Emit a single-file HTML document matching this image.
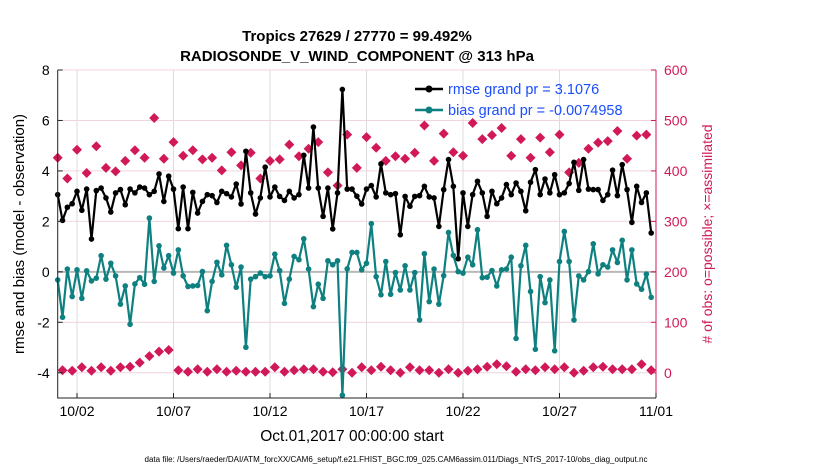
<!DOCTYPE html>
<html><head><meta charset="utf-8"><style>
body{margin:0;background:#fff;}
svg{display:block;font-family:"Liberation Sans",sans-serif;}
</style></head><body>
<svg id="chart" width="830" height="470" viewBox="0 0 830 470">
<text x="357" y="41" text-anchor="middle" font-size="15" font-weight="bold">Tropics 27629 / 27770 = 99.492%</text>
<text x="357" y="61" text-anchor="middle" font-size="15" font-weight="bold">RADIOSONDE_V_WIND_COMPONENT @ 313 hPa</text>
<g id="grid"></g><g id="marks"></g><g id="axes"></g>
<text x="352" y="441" text-anchor="middle" font-size="15.5">Oct.01,2017 00:00:00 start</text>
<text transform="translate(24,234) rotate(-90)" text-anchor="middle" font-size="15">rmse and bias (model - observation)</text>
<text transform="translate(712,234) rotate(-90)" text-anchor="middle" font-size="14" fill="#d1195a"># of obs: o=possible; &#215;=assimilated</text>
<text x="396" y="462" text-anchor="middle" font-size="8" textLength="503" lengthAdjust="spacingAndGlyphs">data file: /Users/raeder/DAI/ATM_forcXX/CAM6_setup/f.e21.FHIST_BGC.f09_025.CAM6assim.011/Diags_NTrS_2017-10/obs_diag_output.nc</text>
<g>
<line x1="415" y1="89" x2="443" y2="89" stroke="#000" stroke-width="2.5"/><circle cx="429" cy="89" r="3.5" fill="#000"/>
<text x="448" y="94" font-size="14.5" fill="#1a4dff">rmse grand pr = 3.1076</text>
<line x1="415" y1="110" x2="443" y2="110" stroke="#0e8080" stroke-width="2.5"/><circle cx="429" cy="110" r="3.5" fill="#0e8080"/>
<text x="448" y="115" font-size="14.5" fill="#1a4dff">bias grand pr = -0.0074958</text>
</g>
</svg>
<script>
const rmse=[3.06,2.04,2.56,2.70,3.19,2.44,3.28,1.30,3.22,3.32,2.93,2.37,3.13,3.26,2.66,3.28,3.13,3.36,3.32,3.06,3.19,3.88,2.79,3.79,3.28,1.71,3.36,1.71,3.15,2.33,2.79,3.06,
3.02,2.75,3.19,3.10,2.97,3.48,2.69,4.78,3.13,2.29,2.93,4.15,2.97,3.36,2.99,2.83,3.19,2.93,3.06,4.62,3.32,5.74,3.32,2.20,3.32,1.70,3.13,7.23,3.28,3.28,3.0,
2.69,3.28,3.42,2.97,4.28,3.13,3.06,3.10,1.47,2.99,2.60,2.99,3.02,3.39,2.97,2.93,1.80,3.26,4.45,3.39,0.52,3.13,1.80,3.06,3.59,3.13,2.20,3.19,2.70,2.93,3.46,
3.06,3.52,3.19,2.42,3.55,4.05,3.06,3.68,3.13,3.85,3.06,3.13,3.50,4.34,3.23,4.45,3.28,3.26,3.26,2.83,3.06,4.03,3.02,4.25,3.26,1.96,3.39,2.75,3.13,1.54];
const bias=[-0.32,-1.80,0.11,-0.98,0.08,-1.05,0.04,-0.36,-0.25,0.64,-0.29,0.34,-0.16,-1.28,-0.56,-2.08,-0.48,-0.23,-0.49,2.13,-0.38,1.03,0.15,0.64,-0.05,0.87,-0.16,-0.58,-0.56,-0.54,0.01,-1.54,
-0.38,0.38,-0.12,1.05,0.28,-0.61,0.19,-2.99,-0.29,-0.19,-0.05,-0.19,-0.16,0.70,0.05,-1.25,-0.29,0.61,0.48,1.31,0.11,-1.38,-0.49,-1.05,0.44,0.28,0.44,-4.89,0.12,0.77,0.77,
0.08,0.34,1.91,-0.19,-0.91,0.41,-0.89,-0.03,-0.72,0.24,-0.72,-0.03,-1.91,0.72,-1.18,0.11,-1.28,-0.15,1.56,0.65,0.01,-0.05,0.58,0.28,1.67,-0.23,-0.21,0.05,-0.56,0.08,0.11,
0.58,-2.64,0.24,1.05,-0.78,-3.07,-0.19,-1.22,-0.32,-3.13,0.41,1.60,0.41,-1.91,-0.16,-0.32,0.01,1.11,-0.08,0.28,0.19,0.87,0.37,1.25,-0.32,0.87,-0.48,-0.69,-0.09,-1.01];
// obs counts at 00Z/12Z (even slots) and 06Z/18Z (odd slots)
const countMain=[426,385,442,396,449,406,399,420,441,426,505,424,457,430,441,423,
426,401,437,411,436,385,420,423,452,429,444,457,397,371,472,406,
467,446,420,429,424,436,490,420,474,437,430,495,463,471,485,
430,463,426,466,437,472,397,416,444,456,459,479,424,470,472];
const countOff=[5,4,11,4,11,4,11,12,20,33,42,45,5,2,7,2,
7,2,4,2,2,2,11,2,5,7,7,2,1,7,0,
11,5,12,5,0,11,5,5,0,7,0,4,7,12,17,13,
2,7,5,11,7,11,0,4,11,12,7,7,7,17,5];
const xTickLabels=["10/02","10/07","10/12","10/17","10/22","10/27","11/01"];
const xTickDays=[1,6,11,16,21,26,31];
const yLeftTicks=[-4,-2,0,2,4,6,8];
const yRightTicks=[0,100,200,300,400,500,600];
const stepDays=0.25;

const L=57.7,R=656,T=70,B=398;
const X=d=>L+(R-L)*d/31;
const Y=v=>T+(B-T)*(8-v)/13;
const YR=c=>Y(c/50-4);
const NS="http://www.w3.org/2000/svg";
function mk(parent,tag,attrs){const e=document.createElementNS(NS,tag);for(const k in attrs)e.setAttribute(k,attrs[k]);document.getElementById(parent).appendChild(e);return e;}

xTickDays.forEach((d,i)=>{const e=mk('grid','line',{x1:X(d),x2:X(d),y1:T,y2:B,stroke:'#dcdcdc','stroke-width':1});

});
yRightTicks.forEach(c=>{const e=mk('grid','line',{x1:L,x2:R,y1:YR(c),y2:YR(c),stroke:'#f0d4de','stroke-width':1});

});
const z=mk('grid','line',{x1:L,x2:R,y1:Y(0),y2:Y(0),stroke:'#b8b8b8','stroke-width':2});



function star(cx,cy){
  const g=mk('marks','g',{});
  
  
  const p=document.createElementNS(NS,'path');
  p.setAttribute('d',`M${cx-5},${cy}L${cx},${cy-5}L${cx+5},${cy}L${cx},${cy+5}Z`);
  p.setAttribute('fill','#d1195a');g.appendChild(p);
}
countMain.forEach((c,k)=>star(X(2*k*stepDays),YR(c)));
countOff.forEach((c,k)=>star(X((2*k+1)*stepDays),YR(c)));

function series(arr,color,name){
  const pts=arr.map((v,i)=>X(i*stepDays).toFixed(1)+','+Y(v).toFixed(1)).join(' ');
  const pl=mk('marks','polyline',{points:pts,fill:'none',stroke:color,'stroke-width':2.2,'stroke-linejoin':'round'});
  
  
  arr.forEach((v,i)=>{const c=mk('marks','circle',{cx:X(i*stepDays),cy:Y(v),r:2.8,fill:color});
    
    });
}
series(bias,'#0e8080','bias');
series(rmse,'#000','rmse');

const ax=mk('axes','path',{d:`M${L},${T}V${B}H${R}`,fill:'none',stroke:'#222','stroke-width':1});


const ar=mk('axes','line',{x1:R,x2:R,y1:T,y2:B,stroke:'#d1195a','stroke-width':1});


xTickDays.forEach((d,i)=>{
  mk('axes','line',{x1:X(d),x2:X(d),y1:B,y2:B-5,stroke:'#222'});
  const t=mk('axes','text',{x:X(d),y:B+18,'text-anchor':'middle','font-size':14});
  t.textContent=xTickLabels[i];
  
  
});
yLeftTicks.forEach(v=>{
  mk('axes','line',{x1:L,x2:L+5,y1:Y(v),y2:Y(v),stroke:'#222'});
  const t=mk('axes','text',{x:L-8,y:Y(v)+5,'text-anchor':'end','font-size':14});
  t.textContent=v;
  
  
});
yRightTicks.forEach(c=>{
  mk('axes','line',{x1:R-5,x2:R,y1:YR(c),y2:YR(c),stroke:'#d1195a'});
  const t=mk('axes','text',{x:R+8,y:YR(c)+5,'font-size':14,fill:'#d1195a'});
  t.textContent=c;
  
  
});
</script>
</body></html>
